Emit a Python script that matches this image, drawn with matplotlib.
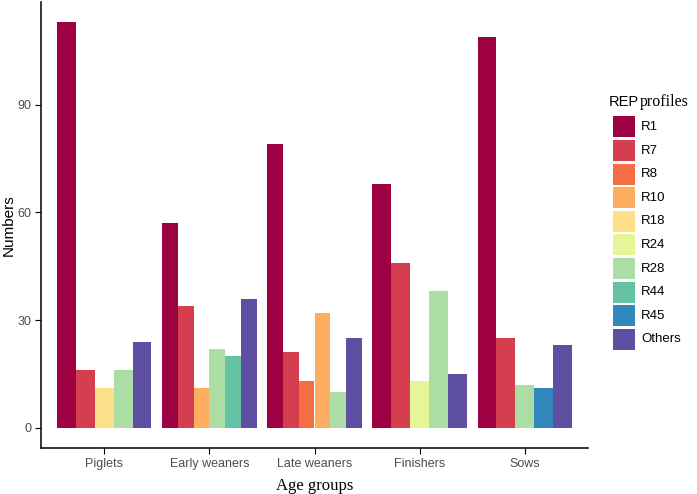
import matplotlib.pyplot as plt
from matplotlib.patches import Rectangle

groups = ["Piglets", "Early weaners", "Late weaners", "Finishers", "Sows"]
profiles = ["R1", "R7", "R8", "R10", "R18", "R24", "R28", "R44", "R45", "Others"]
colors = ["#9E0142", "#D53E4F", "#F46D43", "#FDAE61", "#FEE08B",
          "#E6F598", "#ABDDA4", "#66C2A5", "#3288BD", "#5E4FA2"]

# profiles present in each age group, with counts
piglets = {"R1": 113, "R7": 16, "R18": 11, "R28": 16, "Others": 24}
early_weaners = {"R1": 57, "R7": 34, "R10": 11, "R28": 22, "R44": 20, "Others": 36}
late_weaners = {"R1": 79, "R7": 21, "R8": 13, "R10": 32, "R28": 10, "Others": 25}
finishers = {"R1": 68, "R7": 46, "R24": 13, "R28": 38, "Others": 15}
sows = {"R1": 109, "R7": 25, "R28": 12, "R45": 11, "Others": 23}
counts = [piglets, early_weaners, late_weaners, finishers, sows]

color_of = dict(zip(profiles, colors))
W, H = 697, 494

fig = plt.figure(figsize=(W / 100, H / 100), dpi=100)
ax = fig.add_axes([41 / W, 46 / H, 547 / W, 446 / H])

for i, grp in enumerate(counts):
    n = len(grp)
    w = 0.9 / n
    for j, (p, v) in enumerate(grp.items()):
        x = i + 1 - 0.45 + w * (j + 0.5)
        ax.bar(x, v, width=w, color=color_of[p], linewidth=0)

ax.set_xlim(0.4, 5.6)
ax.set_ylim(-5.65, 118.65)
ax.set_xticks(range(1, 6))
ax.set_xticklabels(groups)
ax.set_yticks([0, 30, 60, 90])
for s in ["top", "right"]:
    ax.spines[s].set_visible(False)
for s in ["left", "bottom"]:
    ax.spines[s].set_linewidth(1.1)
ax.tick_params(length=4, width=0.8, labelsize=9, labelcolor="#4D4D4D", pad=3)
for lab in ax.get_xticklabels() + ax.get_yticklabels():
    lab.set_family("Liberation Sans")

fig.text(9 / W, 1 - 225 / H, "Numbers", fontsize=11, family="Liberation Sans",
         rotation=90, ha="center", va="center")
ax.set_xlabel("Age groups", fontsize=12, family="Liberation Serif", labelpad=6)

# legend, drawn by hand in pixel positions
for k, (p, c) in enumerate(zip(profiles, colors)):
    top = 116.5 + 23.6 * k
    fig.patches.append(Rectangle((613 / W, 1 - (top + 21) / H), 22 / W, 21 / H,
                                 transform=fig.transFigure, facecolor=c,
                                 edgecolor="none"))
    fig.text(641 / W, 1 - (top + 10.5) / H, p, fontsize=9.5,
             family="Liberation Sans", va="center", ha="left")
fig.text(609 / W, 1 - 102 / H, "REP", fontsize=10.5, family="Liberation Sans",
         va="center", ha="left")
fig.text(640 / W, 1 - 102 / H, "profiles", fontsize=11.5, family="Liberation Serif",
         va="center", ha="left")

fig.savefig("out.png", dpi=100)
